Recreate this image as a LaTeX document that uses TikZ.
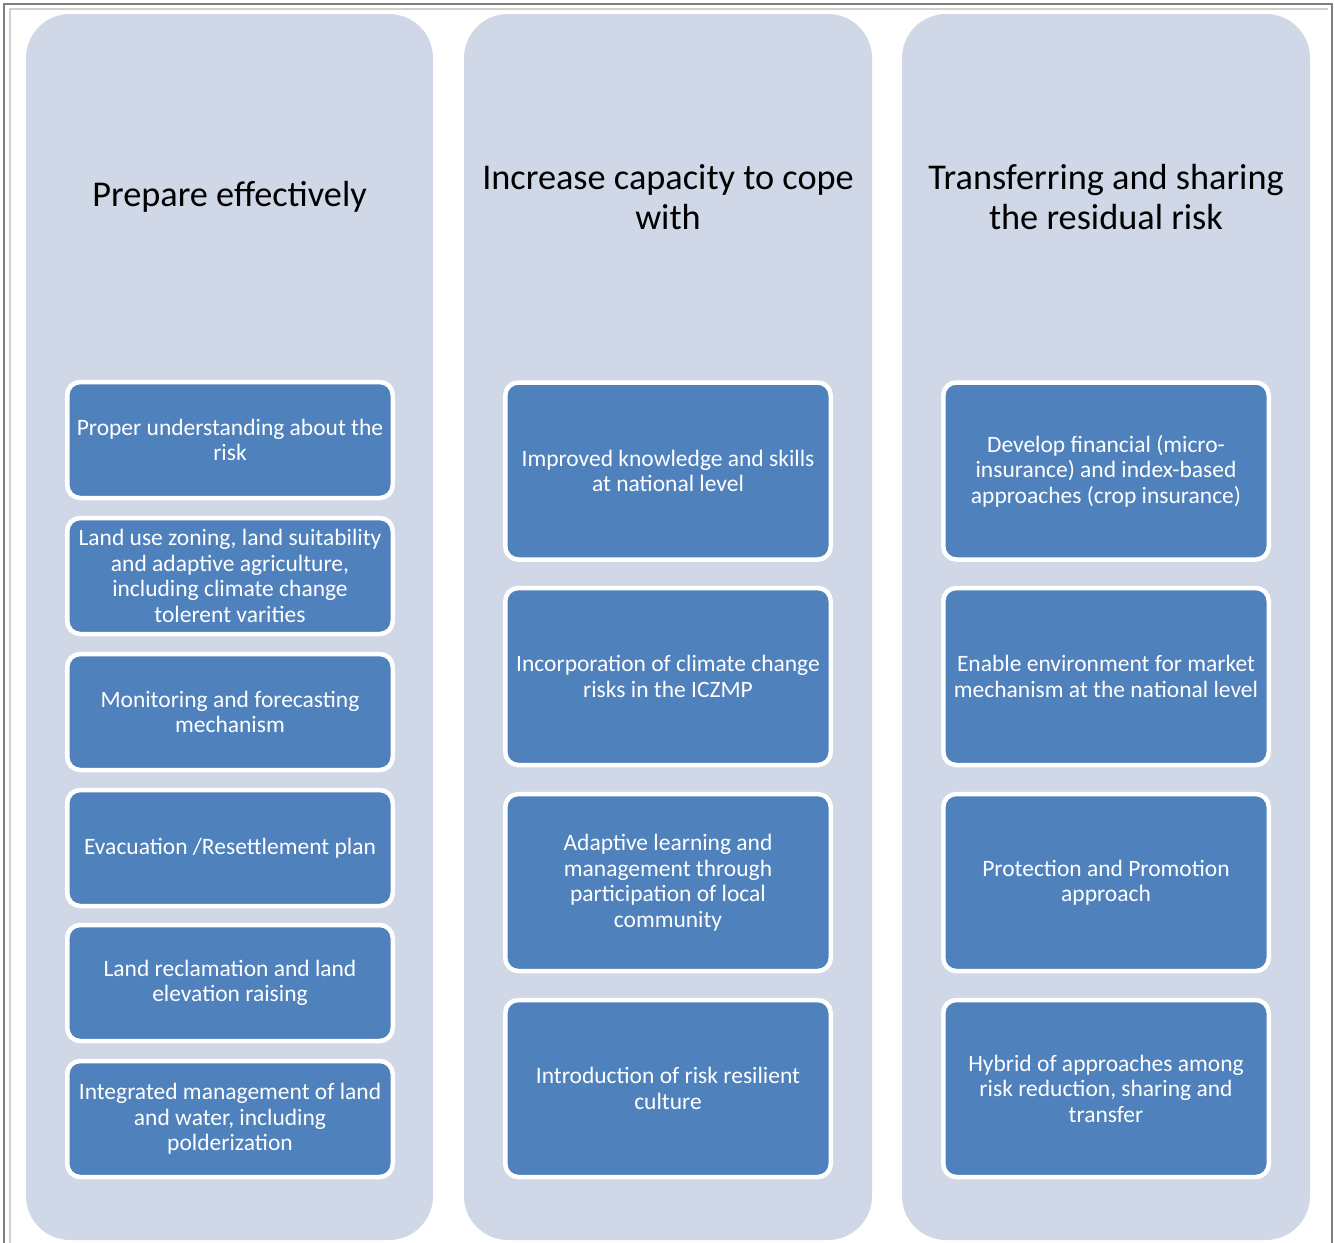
\documentclass[tikz,border=0pt]{standalone}
\usepackage{fontspec}
\setmainfont{Carlito}
\definecolor{colbg}{HTML}{D0D8E8}
\definecolor{boxbg}{HTML}{4F81BD}
\definecolor{framegray}{HTML}{808080}
\definecolor{framebeige}{HTML}{D4D0C8}
\tikzset{
  column/.style={fill=colbg, draw=none, rounded corners=44pt},
  title/.style={text=black, align=center, font=\fontsize{36.3}{40}\selectfont},
  itembox/.style={fill=boxbg, draw=white, line width=4.5pt, rounded corners=13pt,
    text=white, align=center, font=\fontsize{23.5}{25.5}\selectfont, inner sep=0pt},
}
\begin{document}
\begin{tikzpicture}[x=1pt,y=-1pt]
\useasboundingbox (0,0) rectangle (1335,1242);
\fill[white] (0,0) rectangle (1335,1242);
% frame
\draw[framegray, line width=2pt] (4,1250) -- (4,4) -- (1332,4) -- (1332,1250);
\draw[framebeige, line width=1.5pt] (10,1250) -- (10,9) -- (1328,9);
% columns
\path[column] (26,14) rectangle (433,1240);
\path[column] (464,14) rectangle (872,1240);
\path[column] (902,14) rectangle (1310,1240);
% titles
\node[title] (t1) at (229.5,197) {Prepare effectively};
\node[title] (t2) at (668,197) {Increase capacity to cope\\with};
\node[title] (t3) at (1106,197) {Transferring and sharing\\the residual risk};
% boxes
\newcommand{\colAbox}[4]{%
  \node[itembox, minimum width=325.5pt, minimum height=#3] (#1) at (#2) {#4};}
\colAbox{a1}{230,440}{116pt}{Proper understanding about the\\risk}
\colAbox{a2}{230,576}{116pt}{Land use zoning, land suitability\\and adaptive agriculture,\\including climate change\\tolerent varities}
\colAbox{a3}{230,712}{116pt}{Monitoring and forecasting\\mechanism}
\colAbox{a4}{230,848}{116pt}{Evacuation /Resettlement plan}
\colAbox{a5}{230,983}{116pt}{Land reclamation and land\\elevation raising}
\colAbox{a6}{230,1119}{116pt}{Integrated management of land\\and water, including\\polderization}
% column 2 boxes
\colAbox{b1}{668,471}{177pt}{Improved knowledge and skills\\at national level}
\colAbox{b2}{668,676.5}{177pt}{Incorporation of climate change\\risks in the ICZMP}
\colAbox{b3}{668,882.5}{177pt}{Adaptive learning and\\management through\\participation of local\\community}
\colAbox{b4}{668,1088.5}{177pt}{Introduction of risk resilient\\culture}
% column 3 boxes
\colAbox{c1}{1106,471}{177pt}{Develop financial (micro-\\insurance) and index-based\\approaches (crop insurance)}
\colAbox{c2}{1106,676.5}{177pt}{Enable environment for market\\mechanism at the national level}
\colAbox{c3}{1106,882.5}{177pt}{Protection and Promotion\\approach}
\colAbox{c4}{1106,1088.5}{177pt}{Hybrid of approaches among\\risk reduction, sharing and\\transfer}
\end{tikzpicture}
\end{document}
